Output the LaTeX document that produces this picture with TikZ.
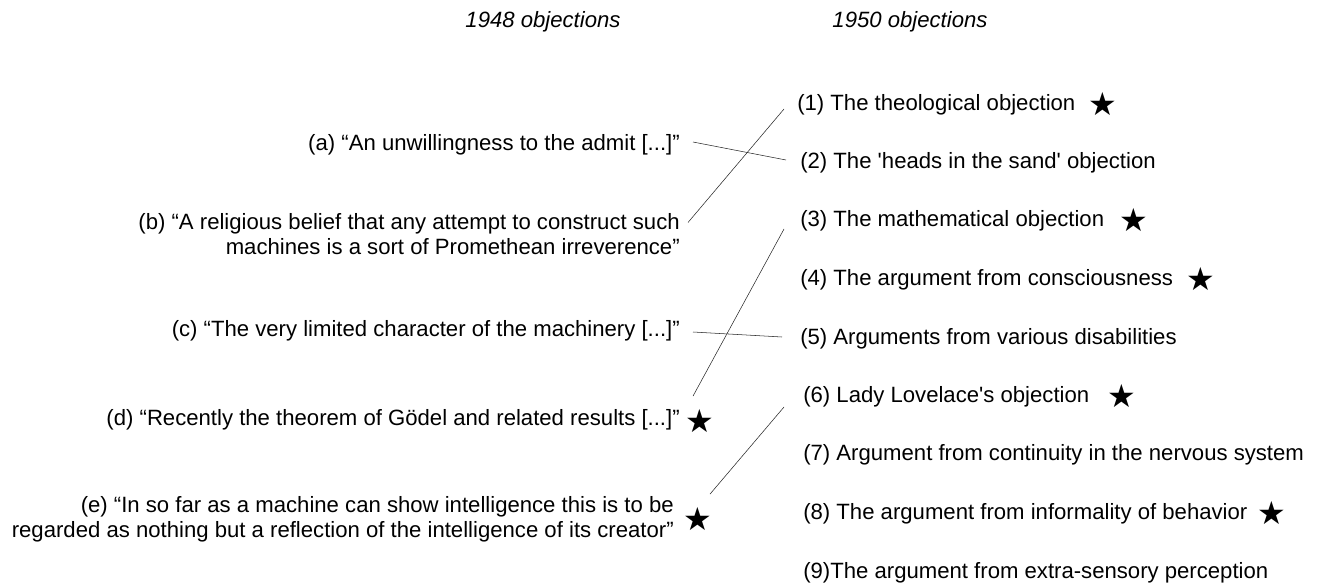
\documentclass[tikz,border=0pt]{standalone}
\usepackage{fontspec}
\setmainfont{Liberation Sans}
\newfontfamily\starfont{DejaVu Sans}
\usetikzlibrary{calc}
\tikzset{
  heading/.style={font=\fontsize{16.6}{18.75}\selectfont\itshape},
  oldobj/.style={anchor=east,align=right,inner sep=0pt},
  newobj/.style={anchor=west,inner sep=0pt},
  starmark/.style={inner sep=0pt,font=\starfont\fontsize{24}{24}\selectfont},
  link/.style={thin,black!85}
}

\begin{document}
\begin{tikzpicture}[x=0.75pt,y=-0.75pt,font=\fontsize{16.6}{18.75}\selectfont]
    \useasboundingbox (0,0) rectangle (1319,585);
    \node[heading] (h48) at (543,22) {1948 objections};
    \node[heading] (h50) at (910,22) {1950 objections};
    % 1948 list
    \node[oldobj] (a) at (680,145) {(a) ``An unwillingness to the admit [...]''};
    \node[oldobj] (b) at (680,234.5) {(b) ``A religious belief that any attempt to construct such\\machines is a sort of Promethean irreverence''};
    \node[oldobj] (c) at (680,331) {(c) ``The very limited character of the machinery [...]''};
    \node[oldobj] (d) at (680,420) {(d) ``Recently the theorem of G\"odel and related results [...]''};
    \node[oldobj] (e) at (674,519.5) {(e) ``In so far as a machine can show intelligence this is to be\\regarded as nothing but a reflection of the intelligence of its creator''};
    \node[starmark] (sd) at (700,421) {★};
    \node[starmark] (se) at (698,519) {★};
    % 1950 list
    \node[newobj] (o1) at (797,105) {(1) The theological objection};
    \node[newobj] (o2) at (800,163) {(2) The \textquotesingle heads in the sand\textquotesingle\ objection};
    \node[newobj] (o3) at (800,221) {(3) The mathematical objection};
    \node[newobj] (o4) at (800,280) {(4) The argument from consciousness};
    \node[newobj] (o5) at (800,339) {(5) Arguments from various disabilities};
    \node[newobj] (o6) at (803,397) {(6) Lady Lovelace\textquotesingle s objection};
    \node[newobj] (o7) at (803,455) {(7) Argument from continuity in the nervous system};
    \node[newobj] (o8) at (803,514) {(8) The argument from informality of behavior};
    \node[newobj] (o9) at (803,573) {(9)The argument from extra-sensory perception};
    \node[starmark] (s1) at (1103,104) {★};
    \node[starmark] (s3) at (1134,220) {★};
    \node[starmark] (s4) at (1201,279) {★};
    \node[starmark] (s6) at (1122,396) {★};
    \node[starmark] (s8) at (1272,513) {★};
    % links
    \draw[link] ($(a.east)+(13,-3)$) -- ($(o2.west)+(-14,-3)$);
    \draw[link] ($(b.east)+(8,-12)$) -- ($(o1.west)+(-13,4)$);
    \draw[link] ($(c.east)+(13,1)$) -- ($(o5.west)+(-18,-2)$);
    \draw[link] ($(sd.north)+(-7,-13)$) -- ($(o3.west)+(-16,8)$);
    \draw[link] ($(se.north)+(12,-13)$) -- ($(o6.west)+(-19,10)$);
\end{tikzpicture}
\end{document}
